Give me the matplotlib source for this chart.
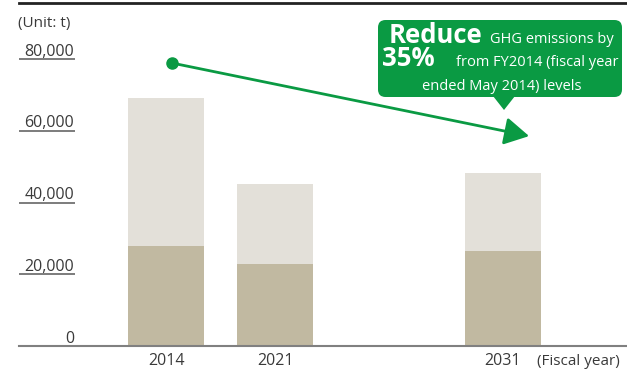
import matplotlib
matplotlib.use('Agg')
import matplotlib.pyplot as plt
from matplotlib.patches import FancyBboxPatch, Polygon

plt.rcParams['font.family'] = ['Open Sans', 'DejaVu Sans']

# GHG emissions (t) per fiscal year, split into the two stacked parts
years = ['2014', '2021', '2031']
lower_part = [28000, 23000, 26600]
upper_part = [41200, 22200, 21700]
yticks = [0, 20000, 40000, 60000, 80000]
ytick_labels = ['0', '20,000', '40,000', '60,000', '80,000']

W, H = 627, 371
dark_col = '#c1b9a1'
light_col = '#e3e0d9'
green = '#0a9a43'
text_col = '#3a3a3a'


def fx(x):
    return x / W


def fy(y):
    # y measured from the top of the figure in pixels
    return 1 - y / H


fig = plt.figure(figsize=(W / 100, H / 100), dpi=100)
ax = fig.add_axes([fx(19), fy(346), fx(608), 343 / H])

xpos = [0, 1, 3.09]
bar_w = 0.70
ax.bar(xpos, lower_part, width=bar_w, color=dark_col, zorder=2)
ax.bar(xpos, upper_part, width=bar_w, bottom=lower_part, color=light_col, zorder=2)

ax.set_xlim(-1.349, 4.229)
ax.set_ylim(0, 343 / 71.7 * 20000)

for side in ['left', 'right']:
    ax.spines[side].set_visible(False)
ax.spines['bottom'].set_color('#808080')
ax.spines['bottom'].set_linewidth(1.5)
ax.spines['top'].set_color('#222222')
ax.spines['top'].set_linewidth(2)
ax.set_xticks([])
ax.set_yticks([])

# short underlines under each y label
ytr = ax.get_yaxis_transform()
for v, lab in zip(yticks, ytick_labels):
    if v > 0:
        ax.plot([0, 56 / 608], [v, v], color='#666666', lw=1.2, transform=ytr,
                clip_on=False, solid_capstyle='butt')
    ax.annotate(lab, xy=(55 / 608, v), xycoords=ytr, xytext=(0, 2.5),
                textcoords='offset points', ha='right', va='baseline',
                fontsize=11.5, color=text_col)

fig.text(fx(18), fy(27), '(Unit: t)', fontsize=11, color=text_col, va='baseline')

for x, yr in zip(xpos, years):
    ax.annotate(yr, xy=(x, 0), xycoords=('data', 'axes fraction'), xytext=(0, -13.7),
                textcoords='offset points', ha='center', va='baseline',
                fontsize=11.5, color=text_col)
fig.text(fx(620), fy(365), '(Fiscal year)', fontsize=11, color=text_col,
         ha='right', va='baseline')

# downward trend arrow
ax.annotate('', xy=(0.839, 0.612), xycoords='axes fraction',
            xytext=(0.2516, 0.825), textcoords='axes fraction',
            arrowprops=dict(arrowstyle='-|>,head_length=0.75,head_width=0.42',
                            mutation_scale=20, color=green, lw=2,
                            shrinkA=0, shrinkB=0), zorder=4)
ax.plot([0.2516], [0.825], 'o', color=green, ms=8, transform=ax.transAxes,
        clip_on=False, zorder=5)

# callout box
box = FancyBboxPatch((fx(378), fy(97)), fx(244), 77 / H,
                     boxstyle='round,pad=0,rounding_size=0.012',
                     transform=fig.transFigure, facecolor=green, edgecolor='none',
                     mutation_aspect=W / H)
fig.add_artist(box)
tri = Polygon([(fx(493), fy(96)), (fx(515), fy(96)), (fx(504), fy(110))],
              closed=True, transform=fig.transFigure, facecolor=green, edgecolor='none')
fig.add_artist(tri)

fig.text(fx(389), fy(43), 'Reduce', fontsize=18.5, fontweight='bold', color='white',
         va='baseline', ha='left')
fig.text(fx(614), fy(43), 'GHG emissions by', fontsize=10.5, color='white',
         va='baseline', ha='right')
fig.text(fx(382), fy(66), '35%', fontsize=18.5, fontweight='bold', color='white',
         va='baseline', ha='left')
fig.text(fx(618), fy(66), 'from FY2014 (fiscal year', fontsize=10.5, color='white',
         va='baseline', ha='right')
fig.text(fx(502), fy(90), 'ended May 2014) levels', fontsize=10.5, color='white',
         va='baseline', ha='center')

fig.savefig('out.png', dpi=100)
